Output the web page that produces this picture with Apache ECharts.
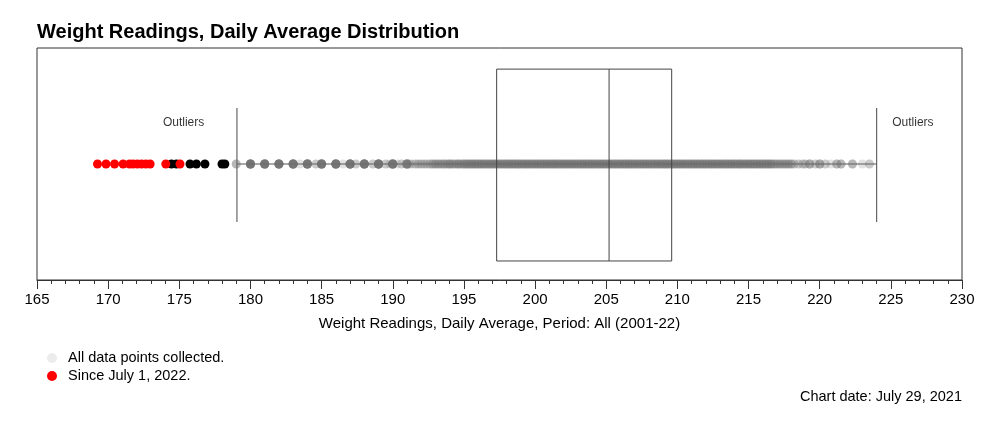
<!DOCTYPE html>
<html>
<head>
<meta charset="utf-8">
<script src="https://cdn.jsdelivr.net/npm/echarts@6/dist/echarts.min.js"></script>
<style>
html,body{margin:0;padding:0;background:#fff;}
#chart{width:1000px;height:438px;}
</style>
</head>
<body>
<div id="chart"></div>
<script>
// ---- data ----
const xTicks = [165, 230, 5];              // min, max, major interval
const boxStats = [179.05, 197.3, 205.2, 209.6, 224.0]; // low whisker, Q1, median, Q3, high whisker

// all data points (value, how many readings stack on it)
const allValues = [
  179.0, 180, 181, 182, 183, 183.5, 184, 184.6, 185, 186, 186.5, 187, 187.4, 188, 188.6,
  189, 189.5, 189.8, 190, 190.3, 190.6, 190.9, 191, 191.2, 191.4, 191.6, 191.8,
  192.0, 192.2, 192.4, 192.6, 192.8,
  193.0, 193.2, 193.4, 193.6, 193.8,
  194.0, 194.2, 194.4, 194.6, 194.8,
  195.0, 195.2, 195.4, 195.6, 195.8,
  196.0, 196.2, 196.4, 196.6, 196.8,
  197.0, 197.2, 197.4, 197.6, 197.8,
  198.0, 198.2, 198.4, 198.6, 198.8,
  199.0, 199.2, 199.4, 199.6, 199.8,
  200.0, 200.2, 200.4, 200.6, 200.8,
  201.0, 201.2, 201.4, 201.6, 201.8,
  202.0, 202.2, 202.4, 202.6, 202.8,
  203.0, 203.2, 203.4, 203.6, 203.8,
  204.0, 204.2, 204.4, 204.6, 204.8,
  205.0, 205.2, 205.4, 205.6, 205.8,
  206.0, 206.2, 206.4, 206.6, 206.8,
  207.0, 207.2, 207.4, 207.6, 207.8,
  208.0, 208.2, 208.4, 208.6, 208.8,
  209.0, 209.2, 209.4, 209.6, 209.8,
  210.0, 210.2, 210.4, 210.6, 210.8,
  211.0, 211.2, 211.4, 211.6, 211.8,
  212.0, 212.2, 212.4, 212.6, 212.8,
  213.0, 213.2, 213.4, 213.6, 213.8,
  214.0, 214.2, 214.4, 214.6, 214.8,
  215.0, 215.2, 215.4, 215.6, 215.8,
  216.0, 216.2, 216.4, 216.6, 216.8,
  217.0, 217.2, 217.4, 217.6, 217.8,
  218.0, 218.2, 218.5, 218.8, 219.0, 219.3, 219.7, 220.0, 220.4, 220.8,
  221.2, 221.5, 222.3, 223.0, 223.5
];
const allCounts = [
  3, 12, 12, 12, 12, 1, 12, 2, 12, 12, 1, 12, 2, 12, 2,
  12, 2, 1, 12, 1, 2, 1, 8, 2, 1, 2, 2,
  2, 2, 2, 2, 3,
  3, 3, 3, 3, 3,
  4, 3, 3, 4, 3,
  4, 4, 4, 4, 4,
  4, 4, 4, 4, 4,
  4, 4, 4, 4, 4,
  4, 4, 4, 4, 4,
  4, 4, 4, 4, 4,
  4, 4, 4, 4, 4,
  4, 4, 4, 4, 4,
  4, 4, 4, 4, 4,
  4, 4, 4, 4, 4,
  4, 4, 4, 4, 4,
  4, 4, 4, 4, 4,
  4, 4, 4, 4, 4,
  4, 4, 4, 4, 4,
  4, 4, 4, 4, 4,
  4, 4, 4, 4, 4,
  4, 4, 4, 4, 4,
  4, 4, 4, 4, 4,
  4, 4, 4, 4, 4,
  4, 4, 4, 4, 4,
  4, 4, 4, 4, 4,
  4, 4, 4, 4, 4,
  4, 4, 4, 4, 3,
  3, 3, 3, 3, 3,
  3, 2, 2, 2, 2, 4, 2, 4, 2, 1,
  3, 3, 3, 1, 2
];
// outliers (black) and readings since July 1, 2022 (red)
const outlierValues = [174.45, 174.8, 175.75, 176.2, 176.8, 178.0, 178.2];
const recentValues = [169.25, 169.85, 170.45, 171.05, 171.5, 171.75, 172.05, 172.35, 172.65, 172.95, 174.05, 175.05];
const outlierLabelX = [175.3, 226.55];

const titleText = 'Weight Readings, Daily Average Distribution';
const axisTitle = 'Weight Readings, Daily Average, Period: All (2001-22)';
const seriesNames = ['All data points collected.', 'Since July 1, 2022.'];
const chartDate = 'Chart date: July 29, 2021';

// ---- build ----
const ROW = 0.5;
const allData = [];
allValues.forEach((v, i) => { for (let k = 0; k < allCounts[i]; k++) allData.push([v, ROW]); });

const FONT = '"Liberation Sans", Arial, Helvetica, sans-serif';
const chart = echarts.init(document.getElementById('chart'), null, {renderer: 'canvas'});

chart.setOption({
  animation: false,
  backgroundColor: '#fff',
  textStyle: {fontFamily: FONT},
  title: {
    text: titleText, left: 32, top: 17,
    textStyle: {fontFamily: FONT, fontWeight: 'bold', fontSize: 20, color: '#000'}
  },
  grid: {left: 37, right: 38, top: 48, height: 232, show: true, borderColor: '#333', borderWidth: 1, backgroundColor: 'transparent'},
  xAxis: {
    type: 'value', min: xTicks[0], max: xTicks[1], interval: xTicks[2],
    name: axisTitle, nameLocation: 'middle', nameGap: 36,
    nameTextStyle: {fontFamily: FONT, fontSize: 15, color: '#000'},
    axisLine: {show: true, lineStyle: {color: '#333', width: 1}},
    axisTick: {show: true, length: 9, lineStyle: {color: '#333'}},
    minorTick: {show: true, splitNumber: 5, length: 4, lineStyle: {color: '#333'}},
    axisLabel: {fontFamily: FONT, fontSize: 15, color: '#000', margin: 12},
    splitLine: {show: false}
  },
  yAxis: {type: 'value', min: 0, max: 1, show: false, splitLine: {show: false}},
  legend: {
    orient: 'vertical', left: 42, top: 344, itemGap: 0,
    itemWidth: 10, itemHeight: 10, icon: 'circle',
    textStyle: {fontFamily: FONT, fontSize: 14.5, color: '#000', lineHeight: 18, padding: [0, 0, 0, 6]},
    data: [
      {name: seriesNames[0], itemStyle: {color: '#ececec', opacity: 1}},
      {name: seriesNames[1], itemStyle: {color: '#ff0000', opacity: 1}}
    ]
  },
  graphic: [{
    type: 'text', right: 38, top: 389,
    style: {text: chartDate, font: '14.5px ' + FONT, fill: '#000'}
  }],
  series: [
    { // whisker line, under the points
      type: 'custom', z: 1, silent: true,
      data: [boxStats],
      renderItem: function (params, api) {
        const a = api.coord([api.value(0), ROW]);
        const b = api.coord([api.value(4), ROW]);
        return {type: 'line', shape: {x1: a[0], y1: a[1], x2: b[0], y2: b[1]}, style: {stroke: '#555', lineWidth: 1}};
      }
    },
    {
      name: seriesNames[0], type: 'scatter', z: 2, silent: true, large: false,
      symbolSize: 9, data: allData,
      itemStyle: {color: '#707070', opacity: 0.2}
    },
    {
      name: 'Outliers', type: 'scatter', z: 3, silent: true,
      symbolSize: 9, data: outlierValues.map(v => [v, ROW]),
      itemStyle: {color: '#000', opacity: 1}
    },
    {
      name: seriesNames[1], type: 'scatter', z: 4, silent: true,
      symbolSize: 9, data: recentValues.map(v => [v, ROW]),
      itemStyle: {color: '#ff0000', opacity: 1}
    },
    { // box, median and whisker caps
      type: 'custom', z: 5, silent: true,
      data: [boxStats],
      renderItem: function (params, api) {
        const top = 0.909, bot = 0.082, wTop = 0.741, wBot = 0.25;
        const q1t = api.coord([api.value(1), top]), q3b = api.coord([api.value(3), bot]);
        const mt = api.coord([api.value(2), top]), mb = api.coord([api.value(2), bot]);
        const lt = api.coord([api.value(0), wTop]), lb = api.coord([api.value(0), wBot]);
        const ht = api.coord([api.value(4), wTop]), hb = api.coord([api.value(4), wBot]);
        const st = {stroke: '#444', lineWidth: 1, fill: null};
        const cap = {stroke: '#666', lineWidth: 1.2};
        return {type: 'group', children: [
          {type: 'rect', shape: {x: q1t[0], y: q1t[1], width: q3b[0] - q1t[0], height: q3b[1] - q1t[1]}, style: st},
          {type: 'line', shape: {x1: mt[0], y1: mt[1], x2: mb[0], y2: mb[1]}, style: st},
          {type: 'line', shape: {x1: lt[0], y1: lt[1], x2: lb[0], y2: lb[1]}, style: cap},
          {type: 'line', shape: {x1: ht[0], y1: ht[1], x2: hb[0], y2: hb[1]}, style: cap}
        ]};
      }
    },
    { // "Outliers" annotations
      type: 'scatter', z: 6, silent: true, symbolSize: 0,
      data: outlierLabelX.map(v => [v, 0.678]),
      label: {show: true, position: 'inside', formatter: 'Outliers', fontFamily: FONT, fontSize: 12, color: '#000'}
    }
  ]
});
</script>
</body>
</html>
